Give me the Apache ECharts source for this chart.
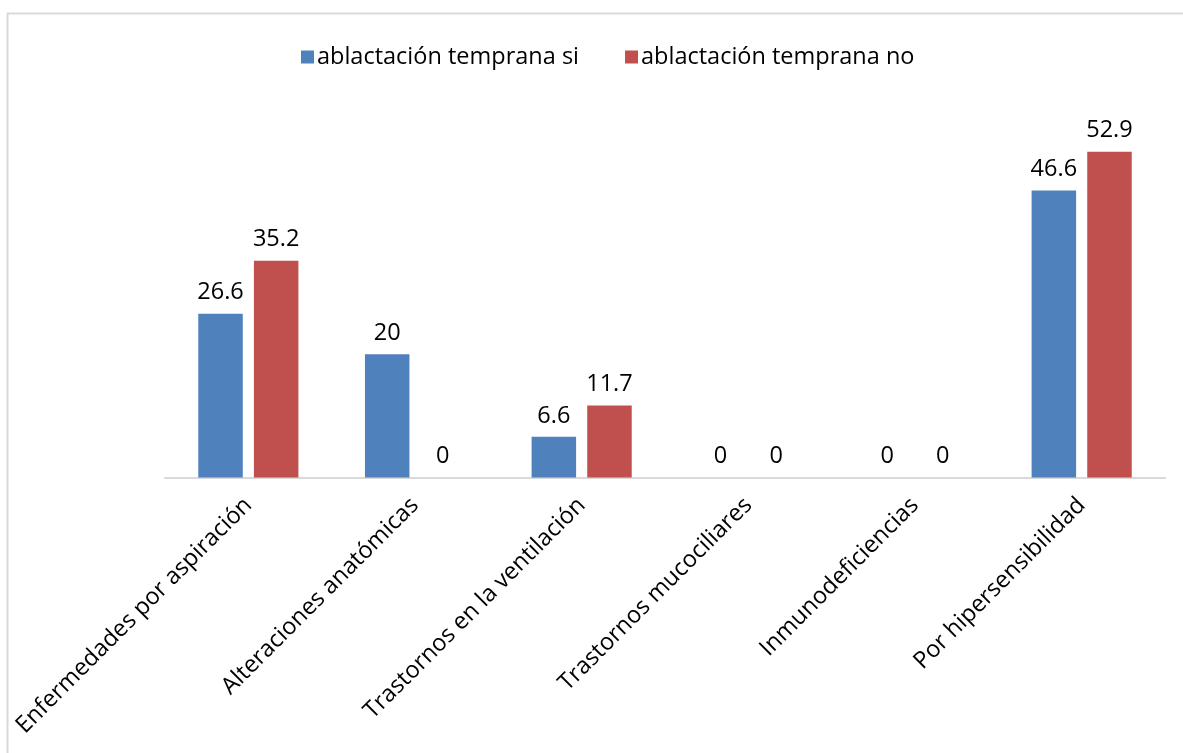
<!DOCTYPE html>
<html>
<head>
<meta charset="utf-8">
<script src="https://cdn.jsdelivr.net/npm/echarts@6/dist/echarts.min.js"></script>
<style>
  html, body { margin: 0; padding: 0; background: #fff; }
  #chart { width: 1183px; height: 753px; }
</style>
</head>
<body>
<div id="chart"></div>
<script>
// Categories and percentage values for each group
const categories = [
  'Enfermedades por aspiración',
  'Alteraciones anatómicas',
  'Trastornos en la ventilación',
  'Trastornos mucociliares',
  'Inmunodeficiencias',
  'Por hipersensibilidad'
];
const seriesNames = ['ablactación temprana si', 'ablactación temprana no'];
const valuesSi = [26.6, 20, 6.6, 0, 0, 46.6];
const valuesNo = [35.2, 0, 11.7, 0, 0, 52.9];

const FONT = '"Open Sans", sans-serif';
const FS = 23.5;
const chart = echarts.init(document.getElementById('chart'));

const labelStyle = {
  show: true,
  position: 'top',
  distance: 9,
  color: '#000',
  fontFamily: FONT,
  fontSize: FS
};

chart.setOption({
  animation: false,
  backgroundColor: '#fff',
  graphic: [{
    type: 'rect',
    shape: { x: 7.5, y: 13.5, width: 1300, height: 900 },
    style: { fill: 'none', stroke: '#D9D9D9', lineWidth: 2 },
    silent: true
  }],
  legend: {
    left: 296,
    top: 40,
    itemWidth: 13,
    itemHeight: 13,
    itemGap: 46,
    icon: 'rect',
    textStyle: { color: '#000', fontFamily: FONT, fontSize: FS, padding: [0, 0, 0, -2] },
    data: seriesNames
  },
  grid: { left: 165, right: 18, top: 108, bottom: 275.5 },
  xAxis: {
    type: 'category',
    data: categories,
    axisLine: { show: true, lineStyle: { color: '#D9D9D9', width: 2 } },
    axisTick: { show: false },
    axisLabel: {
      interval: 0,
      rotate: 45,
      margin: 24,
      color: '#000',
      fontFamily: FONT,
      fontSize: FS
    }
  },
  yAxis: {
    type: 'value',
    min: 0,
    max: 60,
    show: false,
    splitLine: { show: false }
  },
  series: [
    {
      name: seriesNames[0],
      type: 'bar',
      data: valuesSi,
      barWidth: 44.5,
      barGap: '25%',
      itemStyle: { color: '#4F81BD' },
      label: labelStyle
    },
    {
      name: seriesNames[1],
      type: 'bar',
      data: valuesNo,
      barWidth: 44.5,
      itemStyle: { color: '#C0504D' },
      label: labelStyle
    }
  ]
});
</script>
</body>
</html>
